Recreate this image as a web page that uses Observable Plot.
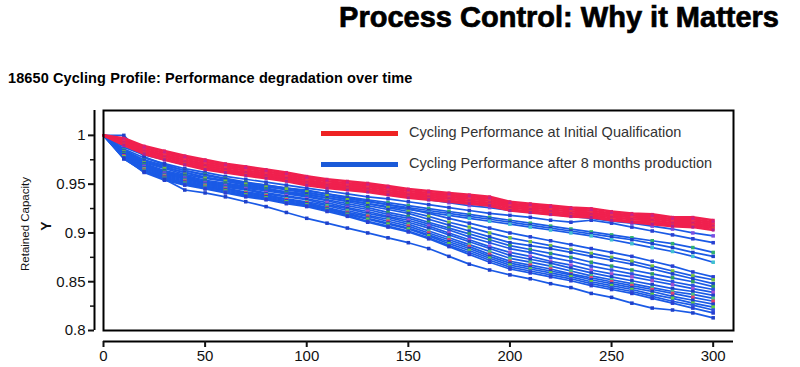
<!DOCTYPE html>
<html>
<head>
<meta charset="utf-8">
<script src="https://cdn.jsdelivr.net/npm/d3@7"></script>
<script src="https://cdn.jsdelivr.net/npm/@observablehq/plot@0.6"></script>
<style>
  html, body { margin: 0; padding: 0; background: #fff; }
  #wrap { position: relative; width: 800px; height: 367px; overflow: hidden; font-family: "Liberation Sans", Arial, sans-serif; }
  #chart { position: absolute; left: 0; top: 0; }
  .abs { position: absolute; white-space: nowrap; }
  #title { right: 21px; top: 1px; font-family: "Liberation Sans Narrow", "Liberation Sans", Arial, sans-serif; font-weight: bold; font-size: 29px; color: #000; -webkit-text-stroke: 0.7px #000; }
  #subtitle { left: 8px; top: 70px; font-weight: bold; font-size: 14.5px; color: #000; letter-spacing: 0.1px; }
  .ylab { transform-origin: center center; transform: translate(-50%, -50%) rotate(-90deg); color: #111; }
  .legline { position: absolute; height: 5px; width: 77px; left: 321px; }
  .legtext { position: absolute; left: 409px; font-size: 14.5px; color: #333; }
</style>
</head>
<body>
<div id="wrap">
  <div id="chart"></div>
  <div id="title" class="abs">Process Control: Why it Matters</div>
  <div id="subtitle" class="abs">18650 Cycling Profile: Performance degradation over time</div>
  <div class="abs ylab" style="left:25px; top:224px; font-size:11.5px;">Retained Capacity</div>
  <div class="abs ylab" style="left:46px; top:226px; font-size:14px; font-weight:bold;">Y</div>
  <div class="legline" style="top:131px; background:#ee2222;"></div>
  <div class="legtext" style="top:124px;">Cycling Performance at Initial Qualification</div>
  <div class="legline" style="top:162px; background:#1a5ad8;"></div>
  <div class="legtext" style="top:155px;">Cycling Performance after 8 months production</div>
</div>
<script>
// Cycle counts (x)
const cycles = [0, 10, 20, 30, 40, 50, 60, 70, 80, 90, 100, 110, 120, 130, 140, 150, 160, 170, 180, 190, 200, 210, 220, 230, 240, 250, 260, 270, 280, 290, 300];

// Retained capacity – cells at initial qualification (red)
const initialSeries = [
  [1, .997, .989, .984, .979, .975, .971, .968, .965, .962, .958, .955, .953, .951, .948, .945, .943, .941, .939, .937, .932, .930, .928, .926, .925, .922, .920, .919, .916, .916, .913],
  [1, .995, .987, .982, .977, .973, .969, .966, .963, .960, .956, .953, .951, .949, .946, .943, .941, .939, .937, .935, .930, .928, .926, .924, .923, .920, .918, .917, .914, .914, .911],
  [1, .994, .985, .980, .975, .971, .967, .964, .961, .958, .954, .951, .949, .947, .944, .941, .939, .937, .935, .933, .928, .926, .924, .922, .921, .918, .916, .915, .912, .912, .909],
  [1, .993, .984, .978, .973, .969, .965, .962, .959, .956, .952, .949, .947, .945, .942, .939, .937, .935, .933, .931, .926, .924, .922, .920, .919, .916, .914, .913, .910, .910, .907],
  [1, .991, .982, .976, .971, .967, .963, .960, .957, .954, .950, .947, .945, .943, .940, .937, .935, .933, .931, .929, .924, .922, .920, .918, .917, .914, .912, .911, .908, .908, .905],
  [1, .990, .981, .975, .970, .965, .962, .959, .956, .953, .949, .946, .944, .942, .939, .936, .934, .932, .930, .928, .923, .921, .919, .917, .916, .913, .911, .909, .907, .906, .903]
];

// Retained capacity – cells after 8 months production (blue)
const productionSeries = [
  [1, .988, .980, .975, .970, .966, .963, .960, .957, .955, .952, .949, .946, .943, .940, .937, .934, .931, .928, .926, .923, .921, .919, .917, .915, .912, .910, .907, .904, .900, .897],
  [1, .986, .977, .971, .966, .962, .958, .955, .952, .949, .946, .943, .940, .937, .935, .932, .929, .926, .923, .920, .918, .916, .913, .911, .913, .910, .906, .902, .898, .894, .890],
  [1, .985, .975, .969, .964, .960, .956, .952, .949, .946, .943, .940, .937, .934, .931, .928, .925, .922, .919, .916, .913, .910, .907, .904, .901, .898, .895, .892, .889, .885, .880],
  [1, 1.0, .978, .970, .964, .959, .955, .951, .948, .944, .941, .938, .935, .932, .929, .926, .923, .920, .917, .914, .911, .908, .905, .902, .899, .896, .893, .889, .885, .880, .876],
  [1, .983, .973, .967, .962, .957, .953, .949, .946, .942, .939, .936, .933, .930, .927, .924, .921, .918, .915, .912, .909, .906, .903, .900, .897, .893, .889, .885, .881, .876, .870],
  [1, .984, .974, .968, .962, .957, .954, .951, .949, .946, .944, .940, .936, .933, .929, .925, .920, .915, .910, .905, .900, .896, .892, .888, .884, .880, .876, .871, .866, .860, .855],
  [1, .983, .972, .966, .960, .956, .953, .950, .947, .945, .942, .938, .934, .930, .926, .922, .917, .911, .906, .900, .895, .891, .887, .883, .879, .875, .871, .866, .861, .856, .852],
  [1, .982, .971, .964, .959, .954, .951, .948, .945, .942, .940, .936, .932, .928, .924, .920, .914, .908, .902, .896, .890, .887, .884, .880, .876, .872, .868, .863, .858, .853, .848],
  [1, .981, .970, .963, .958, .953, .950, .947, .944, .941, .938, .934, .930, .926, .921, .917, .911, .905, .899, .893, .887, .883, .879, .875, .870, .866, .862, .858, .854, .850, .845],
  [1, .980, .969, .962, .957, .952, .949, .946, .943, .940, .937, .933, .928, .924, .919, .915, .909, .903, .896, .890, .884, .880, .875, .871, .866, .862, .858, .854, .850, .846, .842],
  [1, .979, .968, .961, .956, .951, .948, .945, .941, .938, .935, .931, .926, .922, .917, .913, .907, .900, .893, .886, .880, .876, .871, .867, .862, .858, .855, .851, .847, .843, .839],
  [1, .980, .967, .960, .955, .950, .947, .944, .940, .937, .934, .929, .925, .920, .916, .911, .905, .898, .891, .884, .877, .873, .869, .864, .859, .855, .851, .847, .843, .840, .836],
  [1, .978, .966, .959, .954, .949, .946, .942, .939, .935, .932, .928, .923, .918, .914, .909, .902, .895, .888, .881, .874, .870, .866, .861, .856, .852, .848, .844, .840, .837, .833],
  [1, .979, .965, .958, .953, .948, .945, .941, .938, .934, .931, .926, .921, .917, .912, .907, .900, .893, .886, .878, .871, .867, .863, .858, .854, .850, .846, .842, .838, .834, .830],
  [1, .977, .964, .957, .952, .947, .944, .940, .937, .933, .930, .925, .920, .915, .910, .905, .898, .891, .884, .876, .869, .865, .861, .857, .852, .848, .844, .840, .835, .831, .827],
  [1, .978, .964, .956, .951, .947, .943, .939, .936, .932, .929, .924, .919, .914, .909, .904, .897, .889, .882, .874, .867, .863, .859, .855, .850, .846, .842, .837, .833, .828, .824],
  [1, .976, .963, .955, .950, .946, .942, .938, .935, .931, .928, .923, .918, .912, .907, .902, .895, .887, .880, .872, .865, .861, .857, .853, .848, .844, .840, .835, .830, .826, .821],
  [1, .977, .962, .954, .949, .945, .941, .937, .934, .930, .927, .922, .917, .911, .906, .901, .894, .886, .878, .870, .863, .859, .855, .851, .846, .842, .838, .833, .828, .823, .818],
  [1, .976, .963, .955, .944, .941, .937, .932, .927, .921, .915, .910, .905, .900, .895, .890, .884, .876, .868, .862, .857, .853, .848, .844, .838, .834, .828, .823, .821, .818, .813]
];

// Per-cell marker colours (data-logger symbols)
const initialMarkerColors = ["#e0206a", "#c8208a", "#f03050", "#d02070", "#e83a40", "#b02090"];
const productionMarkerColors = ["#7a4fe0", "#2a40d0", "#30b070", "#2040c8", "#40c0d0", "#2a40d0", "#70c040", "#2040c8", "#30a060", "#3050e0", "#a050d0", "#2040c8", "#50c080", "#e04070", "#2040c8", "#60d040", "#3050e0", "#2a40d0", "#2040c8"];

const xTicks = [0, 50, 100, 150, 200, 250, 300];
const yTicks = [0.8, 0.85, 0.9, 0.95, 1];
const yMinorTicks = [0.825, 0.875, 0.925, 0.975];

const toRows = (series, group, markerColors) =>
  series.flatMap((vals, s) => vals.map((v, i) => ({cycle: cycles[i], cap: v, id: group + s, group, mcol: markerColors[s % markerColors.length]})));

const blueRows = toRows(productionSeries, "prod", productionMarkerColors);
const redRows = toRows(initialSeries, "init", initialMarkerColors);

const chart = Plot.plot({
  width: 800,
  height: 367,
  marginLeft: 103,
  marginRight: 67,
  marginTop: 110,
  marginBottom: 37,
  style: {fontFamily: "Liberation Sans, Arial, sans-serif", fontSize: "15px", color: "#111", background: "#fff"},
  x: {domain: [0, 310]},
  y: {domain: [0.8, 1.0255]},
  marks: [
    Plot.line(blueRows, {x: "cycle", y: "cap", z: "id", stroke: "#1a5ae6", strokeWidth: 1.7}),
    Plot.dot(blueRows.filter(d => d.cycle > 0), {x: "cycle", y: "cap", symbol: "square", r: 2, fill: "mcol", stroke: "none"}),
    Plot.line(redRows, {x: "cycle", y: "cap", z: "id", stroke: "#f0204e", strokeWidth: 2.6}),
    Plot.dot(redRows.filter(d => d.cycle > 0), {x: "cycle", y: "cap", symbol: "square", r: 1.7, fill: "mcol", stroke: "none"}),
    Plot.frame({stroke: "#000", strokeWidth: 2}),
    // detached left axis
    Plot.ruleX([0], {dx: -9, stroke: "#000", strokeWidth: 2}),
    Plot.axisY({ticks: yTicks, tickSize: 6, dx: -9, strokeWidth: 2, label: null, tickFormat: d => String(d), fontSize: 15, fill: "#111"}),
    Plot.axisY({ticks: yMinorTicks, tickSize: 4, dx: -9, strokeWidth: 1.5, label: null, tickFormat: () => ""}),
    // detached bottom axis
    Plot.ruleY([0.8], {dy: 11, stroke: "#000", strokeWidth: 2}),
    Plot.axisX({ticks: xTicks, tickSize: 6, dy: 11, strokeWidth: 2, label: null, tickFormat: d => String(d), fontSize: 15, fill: "#111"})
  ]
});
document.getElementById("chart").appendChild(chart);
</script>
</body>
</html>
